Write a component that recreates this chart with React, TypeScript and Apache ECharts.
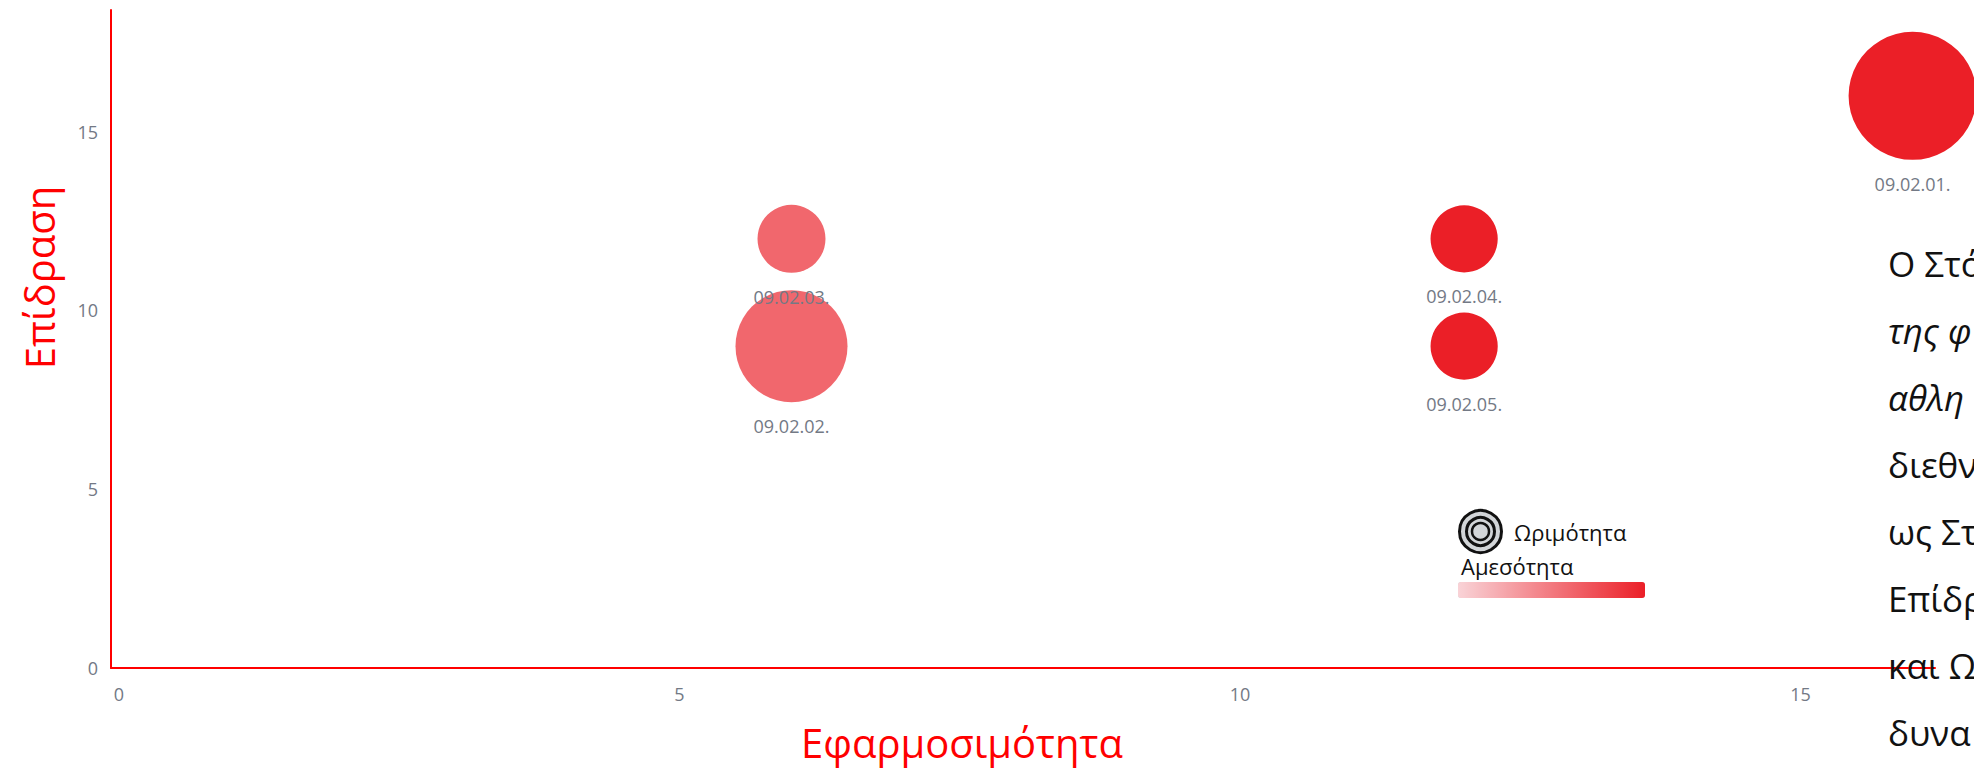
import React, { useEffect, useRef } from "react";
import * as echarts from "echarts";

// ---- data ----
const names = ["09.02.01.", "09.02.02.", "09.02.03.", "09.02.04.", "09.02.05."];
const applicability = [16, 6, 6, 12, 12]; // x: Εφαρμοσιμότητα
const impact = [16, 9, 12, 12, 9]; // y: Επίδραση
const maturity = [16, 14, 8.5, 8.4, 8.4]; // bubble size: Ωριμότητα
const immediacy = [5, 3, 3, 5, 5]; // colour: Αμεσότητα
const tickValues = [0, 5, 10, 15];

const xTitle = "Εφαρμοσιμότητα";
const yTitle = "Επίδραση";
const sizeLegend = "Ωριμότητα";
const colorLegend = "Αμεσότητα";

const noteLines = ["Ο Στό", "της φ", "αθλη", "διεθν", "ως Στ", "Επίδρ", "και Ω", "δυνα"];
const noteItalic = [false, true, true, false, false, false, false, false];

const FONT = "'Open Sans', 'Noto Sans', sans-serif";

export default function App() {
  const ref = useRef<HTMLDivElement>(null);

  useEffect(() => {
    if (!ref.current) return;
    const chart = echarts.init(ref.current, undefined, { renderer: "svg" });

    const data = names.map((n, i) => ({
      name: n,
      value: [applicability[i], impact[i], maturity[i], immediacy[i]],
    }));

    const noteTexts = noteLines.map((t, i) => ({
      type: "text",
      left: 1888,
      top: 264 + i * 67 - 18,
      z: 10,
      style: {
        text: t,
        fill: "#111111",
        font: `${noteItalic[i] ? "italic " : ""}35px ${FONT}`,
      },
    }));

    const option: any = {
      animation: false,
      backgroundColor: "#ffffff",
      grid: { left: 111, right: 39, top: 10, bottom: 105, containLabel: false },
      xAxis: {
        type: "value",
        min: -0.07,
        max: 16.2,
        splitNumber: 3,
        axisLine: { show: true, onZero: false, lineStyle: { color: "#ff0000", width: 2 } },
        axisTick: { show: false },
        splitLine: { show: false },
        axisLabel: {
          showMinLabel: false,
          showMaxLabel: false,
          color: "#737985",
          fontSize: 18,
          fontFamily: FONT,
          margin: 17,
          formatter: (v: number) => (tickValues.includes(v) ? String(v) : ""),
        },
        name: xTitle,
        nameLocation: "middle",
        nameGap: 54,
        nameTextStyle: {
          color: "#ff0000",
          fontSize: 40,
          fontFamily: FONT,
          padding: [0, 122, 0, 0],
        },
      },
      yAxis: {
        type: "value",
        min: 0,
        max: 18.4,
        interval: 5,
        axisLine: { show: true, onZero: false, lineStyle: { color: "#ff0000", width: 2 } },
        axisTick: { show: false },
        splitLine: { show: false },
        axisLabel: {
          showMaxLabel: false,
          color: "#737985",
          fontSize: 18,
          fontFamily: FONT,
          margin: 13,
          formatter: (v: number) => (tickValues.includes(v) ? String(v) : ""),
        },
        name: yTitle,
        nameLocation: "middle",
        nameGap: 52,
        nameTextStyle: {
          color: "#ff0000",
          fontSize: 40,
          fontFamily: FONT,
          padding: [0, 0, 0, 123],
        },
      },
      visualMap: {
        type: "continuous",
        seriesIndex: 0,
        dimension: 3,
        min: 0,
        max: 5,
        orient: "horizontal",
        left: 1458,
        top: 582,
        padding: 0,
        itemWidth: 16,
        itemHeight: 187,
        calculable: false,
        realtime: false,
        inRange: { color: ["#f9d3d7", "#eb1f27"] },
      },
      series: [
        {
          type: "scatter",
          data,
          symbol: "circle",
          symbolSize: (val: number[]) => val[2] * 8,
          itemStyle: { opacity: 1 },
          label: {
            show: true,
            position: "bottom",
            distance: 15,
            formatter: (p: any) => p.name,
            color: "#737985",
            fontSize: 18,
            fontFamily: FONT,
          },
          emphasis: { disabled: true },
        },
      ],
      graphic: [
        {
          type: "group",
          left: 1458,
          top: 509,
          children: [
            { type: "circle", shape: { cx: 23, cy: 23, r: 21 }, style: { fill: "#d2d5d8", stroke: "#111", lineWidth: 3 } },
            { type: "circle", shape: { cx: 23, cy: 23, r: 14 }, style: { fill: "#d2d5d8", stroke: "#111", lineWidth: 3 } },
            { type: "circle", shape: { cx: 23, cy: 23, r: 8.5 }, style: { fill: "#d2d5d8", stroke: "#111", lineWidth: 2.5 } },
          ],
        },
        {
          type: "text",
          left: 1514,
          top: 521,
          style: { text: sizeLegend, fill: "#111111", font: `22px ${FONT}` },
        },
        {
          type: "text",
          left: 1461,
          top: 555,
          style: { text: colorLegend, fill: "#111111", font: `22px ${FONT}` },
        },
        ...noteTexts,
      ],
    };

    chart.setOption(option);
    return () => chart.dispose();
  }, []);

  return (
    <div
      ref={ref}
      style={{ position: "fixed", left: 0, top: 0, width: 1974, height: 773, background: "#fff" }}
    />
  );
}
